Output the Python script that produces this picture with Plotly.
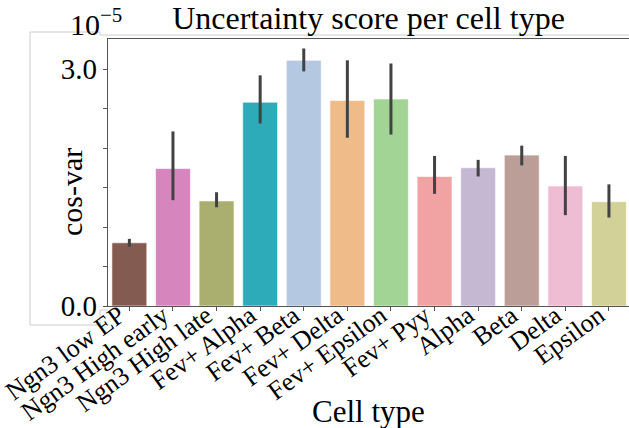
import plotly.graph_objects as go

categories = ["Ngn3 low EP", "Ngn3 High early", "Ngn3 High late", "Fev+ Alpha",
              "Fev+ Beta", "Fev+ Delta", "Fev+ Epsilon", "Fev+ Pyy",
              "Alpha", "Beta", "Delta", "Epsilon"]
# values in units of 1e-5
mean_vals = [0.80, 1.74, 1.33, 2.58, 3.11, 2.60, 2.62, 1.64, 1.75, 1.91, 1.52, 1.32]
ci_high = [0.85, 2.21, 1.44, 2.92, 3.26, 3.11, 3.07, 1.90, 1.85, 2.03, 1.90, 1.54]
ci_low = [0.75, 1.34, 1.25, 2.31, 2.97, 2.13, 2.17, 1.42, 1.64, 1.78, 1.15, 1.12]
bar_colors = ["#835b51", "#d685bd", "#aaae6e", "#2eabb9", "#b4c8e2", "#efbb88",
              "#a1d495", "#f0a3a2", "#c5b8d2", "#bb9e98", "#efbdd3", "#d2d197"]
SCALE = 1e-5
ytick_vals = [0.0, 3.0]
ytick_text = ["0.0", "3.0"]

y = [v * SCALE for v in mean_vals]
err_plus = [(h - v) * SCALE for h, v in zip(ci_high, mean_vals)]
err_minus = [(v - l) * SCALE for v, l in zip(mean_vals, ci_low)]

FONT = "Liberation Serif"
fig = go.Figure(go.Bar(
    x=categories, y=y,
    marker=dict(color=bar_colors, line=dict(color="rgba(255,255,255,0.6)", width=1)),
    width=0.8,
    error_y=dict(type="data", symmetric=False, array=err_plus, arrayminus=err_minus,
                 color="#424242", thickness=3, width=0),
))

L, T, B = 108, 39, 122
W, H = 629, 428
pw = W - L
ph = H - T - B

fig.update_layout(
    width=W, height=H,
    margin=dict(l=L, r=0, t=T, b=B, autoexpand=False),
    plot_bgcolor="white", paper_bgcolor="white",
    font=dict(family=FONT, color="black"),
    showlegend=False,
    title=dict(text="Uncertainty score per cell type", x=0.5, xref="paper",
               xanchor="center", y=0.985, yref="container", yanchor="top",
               font=dict(size=32, family=FONT, color="black")),
    bargap=0.2,
)
fig.update_xaxes(
    range=[-0.49, 11.46], showline=True, linecolor="#555555", linewidth=1.3,
    mirror=True, ticks="outside", ticklen=4, tickcolor="#555555", tickwidth=1,
    tickangle=-36, tickfont=dict(size=26, family=FONT, color="black"),
    ticklabelstandoff=-21, ticklabelshift=-10,
    showgrid=False, zeroline=False, automargin=False,
)
fig.update_yaxes(
    range=[0, 3.38 * SCALE], showline=True, linecolor="#555555", linewidth=1.3,
    mirror=False, ticks="outside", ticklen=4, tickcolor="#555555",
    tickmode="array", tickvals=[v * SCALE for v in ytick_vals], ticktext=ytick_text,
    tickfont=dict(size=29, family=FONT, color="black"),
    minor=dict(dtick=0.5 * SCALE, tick0=0, ticks="outside", ticklen=4,
               tickcolor="#555555", showgrid=False),
    showgrid=False, zeroline=False, automargin=False,
)

def px_x(p):
    return (p - L) / pw

def px_y(p):
    return (H - B - p) / ph

fig.add_annotation(text="Cell type", xref="paper", yref="paper",
                   x=px_x(368), y=px_y(431), xanchor="center", yanchor="bottom",
                   showarrow=False, font=dict(size=31, family=FONT, color="black"))
fig.add_annotation(text="cos-var", xref="paper", yref="paper", textangle=-90,
                   x=px_x(71), y=px_y(192), xanchor="center", yanchor="middle",
                   showarrow=False, font=dict(size=30, family=FONT, color="black"))
fig.add_annotation(text="10<sup>−5</sup>", xref="paper", yref="paper",
                   x=px_x(124), y=px_y(43), xanchor="right", yanchor="bottom",
                   showarrow=False, font=dict(size=30, family=FONT, color="black"))

# light outline around the axis-label area
path = (f"M {px_x(629)},{px_y(35)} L {px_x(100)},{px_y(35)} L {px_x(100)},{px_y(32)} "
        f"L {px_x(30)},{px_y(32)} L {px_x(30)},{px_y(325)} L {px_x(100)},{px_y(325)} "
        f"L {px_x(100)},{px_y(310)} L {px_x(108)},{px_y(310)}")
fig.add_shape(type="path", path=path, xref="paper", yref="paper",
              line=dict(color="#cccccc", width=1), layer="below")

fig.write_html("out.html")
